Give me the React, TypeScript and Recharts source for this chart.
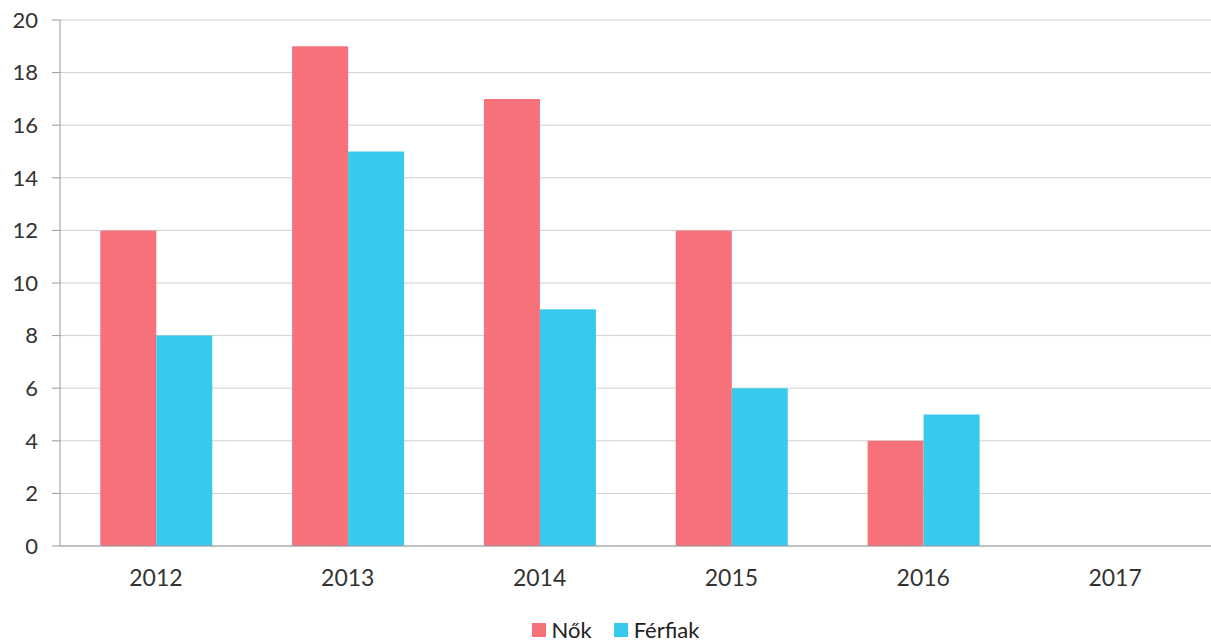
import React from 'react';
import { BarChart, Bar, XAxis, YAxis, CartesianGrid, Legend } from 'recharts';

const categories = ['2012', '2013', '2014', '2015', '2016', '2017'];
const nokValues = [12, 19, 17, 12, 4, 0];
const ferfiakValues = [8, 15, 9, 6, 5, 0];
const yTicks = [0, 2, 4, 6, 8, 10, 12, 14, 16, 18, 20];

const data = categories.map((c, i) => ({ year: c, nok: nokValues[i], ferfiak: ferfiakValues[i] }));

const FONT = 'Lato, "Open Sans", sans-serif';

const LegendContent = () => (
  <div style={{ display: 'flex', justifyContent: 'center', alignItems: 'center', fontFamily: FONT, fontSize: 22, lineHeight: '26px', color: '#222' }}>
    <span style={{ display: 'inline-block', width: 14, height: 14, background: '#F6717A', marginRight: 6 }} />
    <span style={{ marginRight: 22 }}>Nők</span>
    <span style={{ display: 'inline-block', width: 14, height: 14, background: '#38CAEC', marginRight: 6 }} />
    <span>Férfiak</span>
  </div>
);

export default function App() {
  return (
    <div style={{ position: 'absolute', left: 0, top: 0, background: '#fff' }}>
      <BarChart
        width={1211}
        height={643}
        data={data}
        margin={{ top: 20, right: 0, bottom: 41, left: 0 }}
        barCategoryGap="21%"
        barGap={0}
      >
        <CartesianGrid horizontal vertical={false} stroke="#cfcfcf" />
        <XAxis
          dataKey="year"
          stroke="#9a9a9a"
          tickLine={false}
          tick={{ fill: '#333', fontSize: 23, fontFamily: FONT }}
          tickMargin={18}
        />
        <YAxis
          width={60}
          domain={[0, 20]}
          ticks={yTicks}
          interval={0}
          stroke="#9a9a9a"
          tickSize={8}
          tickMargin={14}
          tick={{ fill: '#333', fontSize: 22, fontFamily: FONT }}
        />
        <Legend
          verticalAlign="bottom"
          content={<LegendContent />}
          wrapperStyle={{ left: 0, width: 1231, bottom: 0, height: 26 }}
        />
        <Bar dataKey="nok" name="Nők" fill="#F6717A" isAnimationActive={false} />
        <Bar dataKey="ferfiak" name="Férfiak" fill="#38CAEC" isAnimationActive={false} />
      </BarChart>
    </div>
  );
}
